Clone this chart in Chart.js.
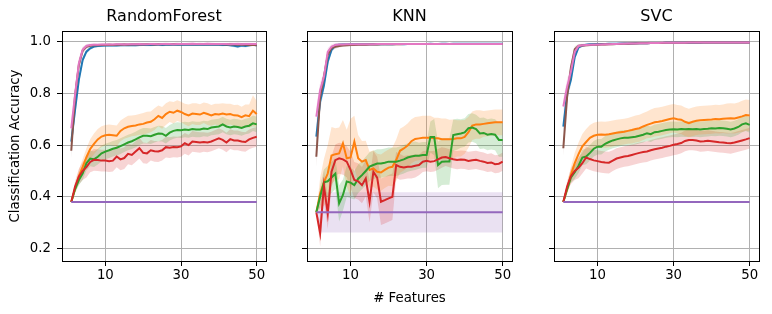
<!DOCTYPE html>
<html>
<head>
<meta charset="utf-8">
<script src="https://cdn.jsdelivr.net/npm/chart.js@4.4.1/dist/chart.umd.min.js"></script>
<style>
  body { margin: 0; background: #fff; }
  #wrap { position: relative; width: 772px; height: 314px; }
  canvas { position: absolute; top: 0; }
</style>
</head>
<body>
<div id="wrap">
  <canvas id="rf" width="270" height="314" style="left:0px"></canvas>
  <canvas id="knn" width="226" height="314" style="left:290px"></canvas>
  <canvas id="svc" width="226" height="314" style="left:537px"></canvas>
</div>
<script>
// x values (# features) and axis ticks
const features = [1,2,3,4,5,6,7,8,9,10,11,12,13,14,15,16,17,18,19,20,21,22,23,24,25,
  26,27,28,29,30,31,32,33,34,35,36,37,38,39,40,41,42,43,44,45,46,47,48,49,50];
const xTicks = [10, 30, 50];
const yTicks = [0.2, 0.4, 0.6, 0.8, 1.0];

// ---- RandomForest ----
const rfBlue = [0.613,0.736,0.852,0.929,0.961,0.974,0.981,0.983,0.984,0.985,
  0.985,0.986,0.985,0.986,0.987,0.986,0.987,0.986,0.987,0.988,
  0.987,0.987,0.988,0.988,0.987,0.988,0.988,0.989,0.988,0.988,
  0.989,0.988,0.989,0.988,0.989,0.988,0.988,0.989,0.988,0.988,
  0.987,0.988,0.986,0.984,0.981,0.985,0.983,0.986,0.988,0.986];
const rfOrange = [0.380,0.430,0.480,0.515,0.553,0.585,0.605,0.622,0.633,0.638,
  0.640,0.638,0.636,0.655,0.665,0.671,0.674,0.676,0.680,0.682,
  0.687,0.690,0.700,0.713,0.705,0.720,0.729,0.725,0.733,0.728,
  0.720,0.715,0.722,0.720,0.718,0.725,0.720,0.715,0.720,0.718,
  0.722,0.718,0.720,0.715,0.714,0.708,0.715,0.712,0.733,0.720];
const rfGreen = [0.380,0.430,0.465,0.490,0.530,0.548,0.545,0.555,0.568,0.575,
  0.580,0.586,0.590,0.596,0.603,0.610,0.615,0.622,0.630,0.636,
  0.636,0.634,0.640,0.645,0.644,0.636,0.648,0.655,0.658,0.657,
  0.660,0.658,0.662,0.660,0.660,0.664,0.662,0.668,0.670,0.672,
  0.680,0.672,0.668,0.672,0.670,0.666,0.672,0.675,0.684,0.680];
const rfRed = [0.380,0.440,0.478,0.500,0.515,0.535,0.543,0.542,0.540,0.540,
  0.538,0.540,0.556,0.545,0.550,0.566,0.562,0.575,0.588,0.570,
  0.568,0.580,0.576,0.575,0.580,0.592,0.590,0.593,0.592,0.595,
  0.607,0.600,0.614,0.612,0.610,0.612,0.610,0.614,0.620,0.626,
  0.620,0.610,0.623,0.618,0.618,0.614,0.612,0.622,0.628,0.632];
const rfPurple = [0.380,0.380,0.380,0.380,0.380,0.380,0.380,0.380,0.380,0.380,
  0.380,0.380,0.380,0.380,0.380,0.380,0.380,0.380,0.380,0.380,
  0.380,0.380,0.380,0.380,0.380,0.380,0.380,0.380,0.380,0.380,
  0.380,0.380,0.380,0.380,0.380,0.380,0.380,0.380,0.380,0.380,
  0.380,0.380,0.380,0.380,0.380,0.380,0.380,0.380,0.380,0.380];
const rfBrown = [0.578,0.790,0.910,0.965,0.980,0.984,0.986,0.986,0.987,0.987,
  0.988,0.987,0.988,0.988,0.989,0.988,0.989,0.989,0.990,0.989,
  0.990,0.990,0.989,0.990,0.990,0.991,0.990,0.990,0.991,0.990,
  0.990,0.991,0.990,0.990,0.991,0.990,0.990,0.991,0.990,0.990,
  0.990,0.989,0.990,0.989,0.988,0.989,0.988,0.987,0.988,0.986];
const rfPink = [0.665,0.795,0.916,0.968,0.983,0.987,0.988,0.988,0.989,0.989,
  0.989,0.989,0.990,0.990,0.989,0.990,0.990,0.990,0.991,0.990,
  0.990,0.991,0.991,0.990,0.991,0.991,0.991,0.990,0.991,0.991,
  0.991,0.991,0.992,0.991,0.991,0.991,0.992,0.991,0.991,0.991,
  0.991,0.991,0.990,0.991,0.991,0.990,0.991,0.991,0.991,0.991];
const rfTopStd = [0.030,0.030,0.020,0.012,0.008,0.006,0.006,0.005,0.005,0.005,
  0.005,0.005,0.005,0.005,0.005,0.005,0.005,0.005,0.005,0.005,
  0.005,0.005,0.005,0.005,0.005,0.005,0.005,0.005,0.005,0.005,
  0.005,0.005,0.005,0.005,0.005,0.005,0.005,0.005,0.005,0.005,
  0.005,0.005,0.006,0.006,0.007,0.006,0.006,0.006,0.005,0.005];
const rfOrangeStd = [0.000,0.015,0.025,0.030,0.035,0.038,0.040,0.040,0.040,0.040,
  0.040,0.040,0.040,0.040,0.040,0.042,0.040,0.040,0.040,0.042,
  0.042,0.040,0.042,0.040,0.042,0.042,0.040,0.042,0.040,0.040,
  0.040,0.042,0.040,0.042,0.040,0.040,0.042,0.040,0.040,0.042,
  0.040,0.042,0.040,0.040,0.042,0.040,0.042,0.045,0.060,0.050];
const rfGreenStd = [0.000,0.015,0.020,0.025,0.028,0.030,0.030,0.030,0.030,0.030,
  0.030,0.030,0.030,0.030,0.030,0.030,0.030,0.030,0.030,0.030,
  0.030,0.030,0.030,0.030,0.030,0.030,0.030,0.030,0.030,0.030,
  0.030,0.030,0.030,0.030,0.030,0.030,0.030,0.030,0.030,0.030,
  0.030,0.030,0.030,0.030,0.030,0.030,0.030,0.030,0.030,0.030];
const rfRedStd = [0.000,0.020,0.030,0.035,0.040,0.040,0.042,0.042,0.042,0.042,
  0.042,0.042,0.042,0.042,0.042,0.040,0.040,0.040,0.040,0.040,
  0.040,0.040,0.040,0.040,0.040,0.040,0.040,0.040,0.040,0.040,
  0.040,0.040,0.040,0.040,0.040,0.038,0.038,0.038,0.038,0.038,
  0.038,0.038,0.038,0.038,0.038,0.038,0.038,0.038,0.038,0.038];

// ---- KNN ----
const knnBlue = [0.633,0.768,0.830,0.922,0.968,0.985,0.988,0.989,0.989,0.990,
  0.990,0.990,0.990,0.990,0.990,0.990,0.990,0.990,0.991,0.990,
  0.990,0.991,0.991,0.990,0.991,0.991,0.991,0.991,0.991,0.991,
  0.992,0.991,0.991,0.992,0.992,0.991,0.992,0.992,0.992,0.992,
  0.992,0.992,0.992,0.992,0.992,0.992,0.992,0.992,0.992,0.992];
const knnOrange = [0.340,0.413,0.456,0.490,0.560,0.565,0.568,0.607,0.549,0.552,
  0.613,0.549,0.536,0.542,0.504,0.510,0.497,0.494,0.504,0.513,
  0.516,0.542,0.578,0.587,0.598,0.615,0.624,0.626,0.628,0.628,
  0.628,0.626,0.626,0.623,0.623,0.623,0.624,0.626,0.626,0.632,
  0.650,0.675,0.680,0.680,0.682,0.684,0.686,0.688,0.688,0.688];
const knnGreen = [0.340,0.400,0.456,0.460,0.475,0.490,0.375,0.407,0.459,0.455,
  0.445,0.470,0.484,0.500,0.517,0.523,0.529,0.529,0.532,0.536,
  0.536,0.536,0.540,0.545,0.552,0.556,0.559,0.559,0.562,0.562,
  0.631,0.631,0.523,0.536,0.537,0.537,0.639,0.642,0.645,0.649,
  0.665,0.668,0.662,0.645,0.647,0.640,0.643,0.640,0.620,0.620];
const knnRed = [0.340,0.259,0.443,0.336,0.497,0.542,0.549,0.545,0.536,0.504,
  0.465,0.460,0.445,0.471,0.381,0.497,0.474,0.381,0.387,0.394,
  0.400,0.523,0.516,0.513,0.516,0.516,0.520,0.523,0.536,0.539,
  0.536,0.538,0.545,0.552,0.554,0.549,0.545,0.542,0.544,0.543,
  0.539,0.541,0.543,0.539,0.536,0.531,0.533,0.526,0.528,0.536];
const knnPurple = [0.340,0.340,0.340,0.340,0.340,0.340,0.340,0.340,0.340,0.340,
  0.340,0.340,0.340,0.340,0.340,0.340,0.340,0.340,0.340,0.340,
  0.340,0.340,0.340,0.340,0.340,0.340,0.340,0.340,0.340,0.340,
  0.340,0.340,0.340,0.340,0.340,0.340,0.340,0.340,0.340,0.340,
  0.340,0.340,0.340,0.340,0.340,0.340,0.340,0.340,0.340,0.340];
const knnBrown = [0.555,0.787,0.864,0.948,0.975,0.980,0.983,0.985,0.986,0.987,
  0.987,0.988,0.988,0.988,0.989,0.989,0.989,0.990,0.990,0.990,
  0.990,0.990,0.990,0.991,0.991,0.991,0.991,0.991,0.991,0.991,
  0.991,0.991,0.991,0.991,0.991,0.991,0.991,0.991,0.991,0.991,
  0.991,0.991,0.991,0.991,0.991,0.991,0.991,0.991,0.991,0.991];
const knnPink = [0.710,0.812,0.864,0.960,0.980,0.987,0.989,0.989,0.990,0.990,
  0.990,0.990,0.990,0.990,0.990,0.990,0.991,0.991,0.991,0.991,
  0.991,0.991,0.991,0.991,0.991,0.991,0.991,0.991,0.991,0.991,
  0.991,0.991,0.991,0.991,0.991,0.991,0.991,0.991,0.991,0.991,
  0.991,0.991,0.991,0.991,0.991,0.991,0.991,0.991,0.991,0.991];
const knnTopStd = [0.040,0.030,0.020,0.015,0.010,0.008,0.006,0.005,0.005,0.005,
  0.004,0.004,0.004,0.004,0.004,0.004,0.004,0.004,0.004,0.004,
  0.004,0.004,0.004,0.004,0.004,0.004,0.004,0.004,0.004,0.004,
  0.004,0.004,0.004,0.004,0.004,0.004,0.004,0.004,0.004,0.004,
  0.004,0.004,0.004,0.004,0.004,0.004,0.004,0.004,0.004,0.004];
const knnOrangeStd = [0.000,0.060,0.090,0.110,0.110,0.100,0.100,0.090,0.110,0.150,
  0.100,0.090,0.080,0.075,0.070,0.070,0.070,0.070,0.070,0.070,
  0.075,0.080,0.085,0.085,0.085,0.085,0.085,0.085,0.085,0.085,
  0.085,0.080,0.080,0.080,0.080,0.075,0.075,0.070,0.070,0.065,
  0.060,0.055,0.055,0.055,0.050,0.050,0.050,0.050,0.050,0.050];
const knnGreenStd = [0.000,0.040,0.050,0.060,0.060,0.060,0.070,0.060,0.060,0.060,
  0.055,0.055,0.055,0.055,0.055,0.055,0.055,0.055,0.055,0.055,
  0.055,0.055,0.055,0.055,0.055,0.055,0.055,0.050,0.050,0.050,
  0.060,0.070,0.090,0.090,0.090,0.090,0.060,0.060,0.055,0.055,
  0.055,0.055,0.055,0.060,0.060,0.060,0.060,0.060,0.065,0.065];
const knnRedStd = [0.000,0.050,0.060,0.060,0.060,0.060,0.060,0.060,0.060,0.070,
  0.070,0.070,0.070,0.070,0.080,0.080,0.080,0.090,0.090,0.090,
  0.090,0.050,0.050,0.045,0.045,0.045,0.045,0.040,0.040,0.040,
  0.040,0.040,0.040,0.040,0.035,0.035,0.035,0.035,0.035,0.035,
  0.035,0.035,0.035,0.035,0.035,0.035,0.035,0.035,0.035,0.035];
const knnPurpleStd = [0.000,0.078,0.078,0.078,0.078,0.078,0.078,0.078,0.078,0.078,
  0.078,0.078,0.078,0.078,0.078,0.078,0.078,0.078,0.078,0.078,
  0.078,0.078,0.078,0.078,0.078,0.078,0.078,0.078,0.078,0.078,
  0.078,0.078,0.078,0.078,0.078,0.078,0.078,0.078,0.078,0.078,
  0.078,0.078,0.078,0.078,0.078,0.078,0.078,0.078,0.078,0.078];

// ---- SVC ----
const svcBlue = [0.671,0.800,0.852,0.940,0.978,0.985,0.988,0.990,0.990,0.991,
  0.991,0.991,0.992,0.992,0.992,0.993,0.993,0.993,0.993,0.994,
  0.994,0.994,0.994,0.995,0.995,0.995,0.995,0.996,0.996,0.996,
  0.996,0.996,0.996,0.996,0.997,0.996,0.996,0.997,0.997,0.997,
  0.997,0.997,0.997,0.997,0.997,0.997,0.997,0.997,0.997,0.997];
const svcOrange = [0.380,0.430,0.485,0.530,0.565,0.595,0.612,0.628,0.636,0.640,
  0.641,0.640,0.642,0.645,0.648,0.650,0.652,0.655,0.658,0.662,
  0.665,0.672,0.678,0.683,0.688,0.690,0.693,0.697,0.701,0.704,
  0.700,0.698,0.690,0.685,0.690,0.694,0.696,0.697,0.698,0.699,
  0.701,0.700,0.702,0.703,0.704,0.703,0.707,0.711,0.716,0.714];
const svcGreen = [0.380,0.430,0.475,0.495,0.520,0.552,0.556,0.570,0.586,0.594,
  0.594,0.605,0.612,0.618,0.622,0.626,0.628,0.628,0.630,0.632,
  0.636,0.640,0.646,0.642,0.650,0.652,0.655,0.658,0.660,0.661,
  0.660,0.662,0.661,0.662,0.661,0.662,0.660,0.662,0.663,0.665,
  0.664,0.666,0.665,0.663,0.660,0.664,0.670,0.680,0.684,0.678];
const svcRed = [0.380,0.440,0.480,0.500,0.512,0.530,0.552,0.546,0.541,0.538,
  0.535,0.533,0.532,0.540,0.548,0.552,0.556,0.558,0.562,0.566,
  0.570,0.573,0.575,0.580,0.584,0.587,0.590,0.594,0.597,0.601,
  0.604,0.608,0.616,0.620,0.620,0.618,0.614,0.615,0.617,0.615,
  0.613,0.611,0.610,0.608,0.607,0.610,0.614,0.618,0.622,0.627];
const svcPurple = [0.380,0.380,0.380,0.380,0.380,0.380,0.380,0.380,0.380,0.380,
  0.380,0.380,0.380,0.380,0.380,0.380,0.380,0.380,0.380,0.380,
  0.380,0.380,0.380,0.380,0.380,0.380,0.380,0.380,0.380,0.380,
  0.380,0.380,0.380,0.380,0.380,0.380,0.380,0.380,0.380,0.380,
  0.380,0.380,0.380,0.380,0.380,0.380,0.380,0.380,0.380,0.380];
const svcBrown = [0.588,0.787,0.900,0.970,0.983,0.985,0.986,0.987,0.988,0.988,
  0.989,0.989,0.990,0.990,0.991,0.991,0.992,0.992,0.993,0.993,
  0.994,0.994,0.994,0.995,0.995,0.995,0.995,0.996,0.996,0.996,
  0.996,0.996,0.996,0.997,0.997,0.997,0.997,0.997,0.997,0.997,
  0.997,0.997,0.997,0.997,0.997,0.997,0.997,0.997,0.997,0.997];
const svcPink = [0.749,0.826,0.884,0.960,0.983,0.986,0.987,0.988,0.988,0.989,
  0.989,0.990,0.990,0.991,0.991,0.992,0.992,0.993,0.993,0.993,
  0.994,0.994,0.994,0.995,0.995,0.995,0.996,0.996,0.996,0.996,
  0.996,0.996,0.996,0.997,0.997,0.997,0.997,0.997,0.997,0.997,
  0.997,0.997,0.997,0.997,0.997,0.997,0.997,0.997,0.997,0.997];
const svcTopStd = [0.030,0.030,0.020,0.012,0.008,0.006,0.005,0.005,0.004,0.004,
  0.004,0.004,0.004,0.004,0.004,0.004,0.004,0.004,0.004,0.004,
  0.004,0.004,0.004,0.004,0.004,0.004,0.004,0.004,0.004,0.004,
  0.004,0.004,0.004,0.004,0.004,0.004,0.004,0.004,0.004,0.004,
  0.004,0.004,0.004,0.004,0.004,0.004,0.004,0.004,0.004,0.004];
const svcOrangeStd = [0.000,0.020,0.030,0.040,0.045,0.048,0.050,0.050,0.050,0.050,
  0.050,0.050,0.050,0.050,0.050,0.050,0.050,0.050,0.052,0.052,
  0.052,0.052,0.052,0.055,0.055,0.055,0.055,0.055,0.055,0.055,
  0.055,0.055,0.055,0.055,0.055,0.055,0.055,0.055,0.055,0.055,
  0.055,0.055,0.055,0.058,0.058,0.058,0.058,0.060,0.060,0.060];
const svcGreenStd = [0.000,0.015,0.020,0.025,0.028,0.030,0.030,0.030,0.030,0.030,
  0.030,0.030,0.030,0.030,0.030,0.030,0.030,0.030,0.030,0.030,
  0.030,0.030,0.030,0.030,0.030,0.030,0.030,0.030,0.030,0.030,
  0.030,0.030,0.030,0.030,0.030,0.030,0.030,0.030,0.030,0.030,
  0.030,0.030,0.030,0.030,0.030,0.030,0.030,0.030,0.030,0.030];
const svcRedStd = [0.000,0.020,0.030,0.035,0.040,0.040,0.042,0.042,0.042,0.042,
  0.042,0.042,0.042,0.040,0.040,0.040,0.040,0.040,0.040,0.040,
  0.040,0.040,0.040,0.040,0.040,0.040,0.040,0.040,0.040,0.040,
  0.040,0.040,0.040,0.040,0.040,0.040,0.040,0.040,0.040,0.040,
  0.040,0.040,0.040,0.040,0.040,0.040,0.040,0.040,0.040,0.040];

const tab = {
  blue: '#1f77b4', orange: '#ff7f0e', green: '#2ca02c', red: '#d62728',
  purple: '#9467bd', brown: '#8c564b', pink: '#e377c2'
};

Chart.defaults.font.family = "'DejaVu Sans', sans-serif";
Chart.defaults.color = '#000';

function fade(hex, a) {
  const n = parseInt(hex.slice(1), 16);
  return `rgba(${n >> 16}, ${(n >> 8) & 255}, ${n & 255}, ${a})`;
}

function points(values) {
  return values.map((v, i) => ({ x: features[i], y: v }));
}

// bands first (lower, then upper filled down to it), lines afterwards
function buildDatasets(series) {
  const sets = [];
  series.forEach((s, k) => {
    if (!s.std) return;
    const lo = s.mean.map((m, i) => m - s.std[i]);
    const hi = s.mean.map((m, i) => m + s.std[i]);
    sets.push({ data: points(lo), borderWidth: 0, borderColor: 'transparent', pointRadius: 0, fill: false, order: 100 + k });
    sets.push({ data: points(hi), borderWidth: 0, borderColor: 'transparent', pointRadius: 0,
      fill: '-1', backgroundColor: fade(s.color, 0.2), order: 100 + k });
  });
  series.forEach((s, k) => {
    sets.push({ data: points(s.mean), borderColor: s.color, borderWidth: 2, pointRadius: 0,
      fill: false, tension: 0, order: series.length - k });
  });
  return sets;
}

// black box around each plot area
const frame = {
  id: 'frame',
  afterDraw(chart) {
    const { ctx, chartArea: a } = chart;
    const px = v => Math.round(v - 0.5) + 0.5;
    ctx.save();
    ctx.strokeStyle = '#000';
    ctx.lineWidth = 1;
    ctx.strokeRect(px(a.left), px(a.top), px(a.right) - px(a.left), px(a.bottom) - px(a.top));
    ctx.restore();
  }
};

function makeChart(id, title, series, opts) {
  return new Chart(document.getElementById(id), {
    type: 'line',
    data: { datasets: buildDatasets(series) },
    plugins: [frame],
    options: {
      responsive: false,
      animation: false,
      events: [],
      layout: { padding: { left: 0, right: 4, top: 0, bottom: 0 } },
      plugins: {
        legend: { display: false },
        tooltip: { enabled: false },
        title: {
          display: true, text: title, fullSize: false, color: '#000',
          font: { size: 16, weight: 'normal' },
          padding: { top: 7, bottom: 4.8 }
        }
      },
      scales: {
        x: {
          type: 'linear', min: -1.45, max: 52.45,
          afterBuildTicks: s => { s.ticks = xTicks.map(v => ({ value: v })); },
          afterFit: s => { s.height = 53; },
          ticks: { font: { size: 13.3 }, padding: 2, autoSkip: false, maxRotation: 0, callback: v => String(v) },
          grid: { color: '#b0b0b0', lineWidth: 1, tickColor: '#000', tickLength: 5, tickWidth: 1 },
          border: { display: false },
          title: {
            display: !!opts.xTitle, text: opts.xTitle || '', color: '#000',
            font: { size: 13.3 }, padding: { top: 0, bottom: 7.5 }
          }
        },
        y: {
          min: 0.152, max: 1.041,
          afterBuildTicks: s => { s.ticks = yTicks.map(v => ({ value: v })); },
          afterFit: s => { s.width = opts.yWidth; },
          ticks: {
            font: { size: 13.3 }, padding: 6, autoSkip: false,
            callback: v => opts.yLabels ? v.toFixed(1) : ''
          },
          grid: { color: '#b0b0b0', lineWidth: 1, tickColor: '#000', tickLength: 5, tickWidth: 1 },
          border: { display: false },
          title: {
            display: !!opts.yTitle, text: opts.yTitle || '', color: '#000',
            font: { size: 13.3 }, padding: { top: 8, bottom: 0 }
          }
        }
      }
    }
  });
}

makeChart('rf', 'RandomForest', [
  { mean: rfBlue, std: rfTopStd, color: tab.blue },
  { mean: rfOrange, std: rfOrangeStd, color: tab.orange },
  { mean: rfGreen, std: rfGreenStd, color: tab.green },
  { mean: rfRed, std: rfRedStd, color: tab.red },
  { mean: rfPurple, std: null, color: tab.purple },
  { mean: rfBrown, std: rfTopStd, color: tab.brown },
  { mean: rfPink, std: rfTopStd, color: tab.pink }
], { yWidth: 62, yLabels: true, yTitle: 'Classification Accuracy' });

makeChart('knn', 'KNN', [
  { mean: knnBlue, std: knnTopStd, color: tab.blue },
  { mean: knnOrange, std: knnOrangeStd, color: tab.orange },
  { mean: knnGreen, std: knnGreenStd, color: tab.green },
  { mean: knnRed, std: knnRedStd, color: tab.red },
  { mean: knnPurple, std: knnPurpleStd, color: tab.purple },
  { mean: knnBrown, std: knnTopStd, color: tab.brown },
  { mean: knnPink, std: knnTopStd, color: tab.pink }
], { yWidth: 17, yLabels: false, xTitle: '# Features' });

makeChart('svc', 'SVC', [
  { mean: svcBlue, std: svcTopStd, color: tab.blue },
  { mean: svcOrange, std: svcOrangeStd, color: tab.orange },
  { mean: svcGreen, std: svcGreenStd, color: tab.green },
  { mean: svcRed, std: svcRedStd, color: tab.red },
  { mean: svcPurple, std: null, color: tab.purple },
  { mean: svcBrown, std: svcTopStd, color: tab.brown },
  { mean: svcPink, std: svcTopStd, color: tab.pink }
], { yWidth: 17, yLabels: false });
</script>
</body>
</html>
